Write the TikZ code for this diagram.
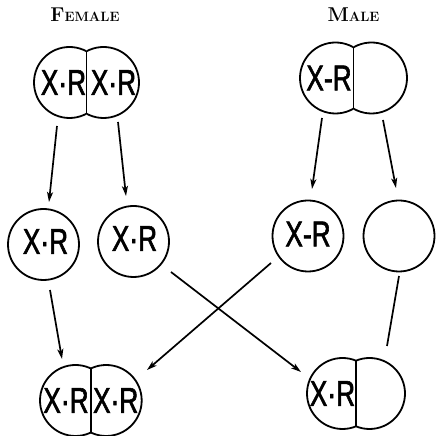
\documentclass[tikz,border=0pt]{standalone}
\usepackage{fontspec}
\newfontfamily\xrfont[FakeStretch=0.73,FakeBold=1.6]{Liberation Sans}
\usetikzlibrary{calc,arrows.meta}
\tikzset{
  cell/.style={line width=1.8pt},
  cellpos/.style={circle,minimum size=71pt,inner sep=0pt},
  onecell/.style={cellpos,draw,line width=1.8pt},
  xr/.style={inner sep=0pt,font=\xrfont\fontsize{36}{36}\selectfont},
  lbl/.style={inner sep=0pt,anchor=base,font=\bfseries\addfontfeatures{FakeBold=0.8}},
  arr/.style={line width=1.7pt,-{Stealth[length=10pt,width=6pt,inset=2.5pt]}},
  plainline/.style={line width=1.7pt}
}
\newcommand\twocell[5]{%
  \node[cellpos] (#1) at (#3,#5) {};
  \node[cellpos] (#2) at (#4,#5) {};
  \pgfmathsetmacro\cmid{(#3+#4)/2}
  \pgfmathsetmacro\chh{sqrt(35.5*35.5-((#4-#3)/2)^2)}
  \begin{scope}
    \clip (#3-45,#5-45) rectangle (\cmid,#5+45);
    \draw[cell] (#1.center) circle[radius=35.5pt];
  \end{scope}
  \begin{scope}
    \clip (\cmid,#5-45) rectangle (#4+45,#5+45);
    \draw[cell] (#2.center) circle[radius=35.5pt];
  \end{scope}
  \draw[cell] (\cmid,#5-\chh) -- (\cmid,#5+\chh);
}
\begin{document}
\begin{tikzpicture}[x=1pt,y=1pt]
\useasboundingbox (0,0) rectangle (437,436);
\fill[white] (0,0) rectangle (437,436);

% labels
\node[lbl] (female) at (85,414) {{\fontsize{20}{20}\selectfont F}{\fontsize{13.5}{13.5}\selectfont EMALE}};
\node[lbl] (male) at (353.5,414) {{\fontsize{20}{20}\selectfont M}{\fontsize{13.5}{13.5}\selectfont ALE}};

% top row
\twocell{fl1}{fr1}{69.5}{103.5}{353.5}
\twocell{ml1}{mr1}{335.5}{371.5}{358}
\node[xr] (tfl) at ($(fl1)+(-6,0)$) {X·R};
\node[xr] (tfr) at ($(fr1)+(10,0)$) {X·R};
\node[xr] (tml) at ($(ml1)+(-6.5,0)$) {X-R};

% middle row
\node[onecell] (m1) at (43.5,191.5) {};
\node[onecell] (m2) at (133.5,194.5) {};
\node[onecell] (m3) at (308,200) {};
\node[onecell] (m4) at (399,200) {};
\node[xr] (tm1) at ($(m1)+(2,3)$) {X·R};
\node[xr] (tm2) at ($(m2)+(1,3)$) {X·R};
\node[xr] (tm3) at ($(m3)+(0,2)$) {X-R};

% bottom row
\twocell{bfl}{bfr}{75.5}{106.2}{35.5}
\twocell{bml}{bmr}{342.5}{369.5}{42.5}
\node[xr] (tbfl) at ($(bfl)+(-9.5,0)$) {X·R};
\node[xr] (tbfr) at ($(bfr)+(9.5,0)$) {X·R};
\node[xr] (tbml) at ($(bml)+(-10,0)$) {X·R};

% connectors
\draw[arr] ($(fl1)+(-12.5,-43.5)$) -- ($(m1)+(5.5,42.5)$);
\draw[arr] ($(fr1)+(14.5,-39.5)$) -- ($(m2)+(-7.5,45.5)$);
\draw[arr] ($(ml1)+(-13.5,-40)$) -- ($(m3)+(4,47)$);
\draw[arr] ($(mr1)+(11.5,-42)$) -- ($(m4)+(-3,48)$);
\draw[arr] ($(m1)+(6.5,-45.5)$) -- ($(bfl)+(-13.5,41.5)$);
\draw[arr] ($(m2)+(37.5,-30.5)$) -- ($(bml)+(-41.5,21.5)$);
\draw[arr] ($(m3)+(-37,-27)$) -- ($(bfr)+(40.8,30.5)$);
\draw[plainline] ($(m4)+(0,-40)$) -- ($(bmr)+(17.5,47.5)$);
\end{tikzpicture}
\end{document}
